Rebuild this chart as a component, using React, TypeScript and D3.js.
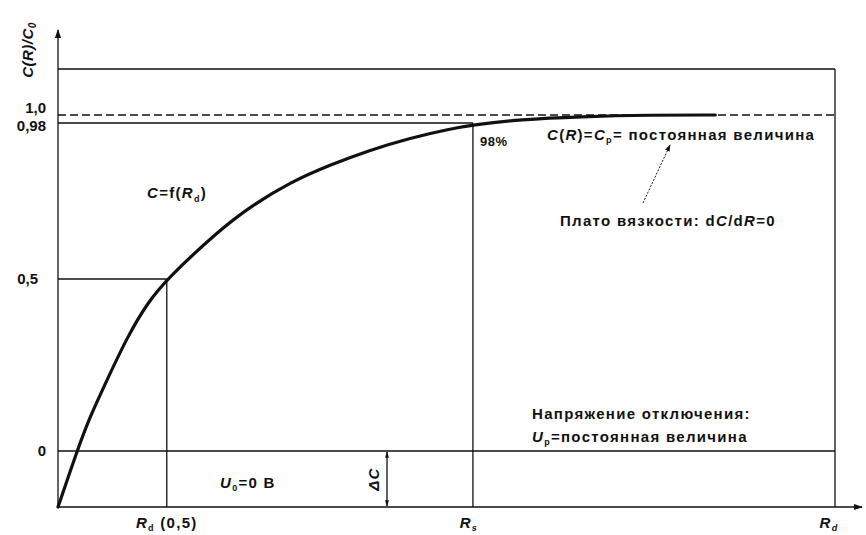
import React, { useEffect } from "react";
import * as d3 from "d3";

// C(R)/C0 curve (R in relative units 0..100 of the axis)
const curveR = [0, 2.45, 4.1, 6.3, 8.9, 11.5, 14.0, 20.8, 24.7, 29.9, 35.0, 40.2, 45.3, 50.5, 53.4, 59.5, 67.2, 76.2, 84.6];
const curveC = [-0.163, 0, 0.099, 0.206, 0.331, 0.43, 0.5, 0.651, 0.722, 0.798, 0.851, 0.897, 0.934, 0.962, 0.974, 0.989, 0.996, 1.0, 1.0];

const yTickValues = [1.0, 0.98, 0.5, 0];
const yTickLabels = ["1,0", "0,98", "0,5", "0"];

const deltaC = -0.163; // bottom of the diagram (R axis)
const yTop = 1.135; // upper frame line
const rHalf = 14.0; // R at C = 0,5
const rPlateau = 53.4; // R at 98 %
const rMax = 100;

const W = 866;
const H = 535;
const FONT = "'Liberation Sans', Arial, sans-serif";

export default function App() {
  useEffect(() => {
    document.body.style.margin = "0";
  }, []);

  const x = d3.scaleLinear().domain([0, rMax]).range([58, 835]);
  // schematic, not to scale: piecewise linear mapping
  const y = d3
    .scaleLinear()
    .domain([deltaC, 0, 0.5, 0.98, 1.0, yTop])
    .range([507, 451, 279, 123, 115, 69]);

  const pts = curveR.map((r, i) => [r, curveC[i]] as [number, number]);
  const line = d3
    .line<[number, number]>()
    .x((d) => x(d[0]))
    .y((d) => y(d[1]))
    .curve(d3.curveBasis);

  const x0 = x(0);
  const x1 = x(rMax);
  const xArrow = x1 + 27;
  const yBase = y(deltaC);
  const yArrow = 28;
  const dcX = 387;

  const txt = { fontFamily: FONT, fontWeight: 700, fill: "#111", fontSize: 15, letterSpacing: 1.3 } as const;

  return (
    <svg width={W} height={H} style={{ display: "block", background: "#fff" }}>
      <defs>
        <marker id="ah" viewBox="0 0 10 10" refX="9" refY="5" markerWidth="7" markerHeight="7" orient="auto-start-reverse">
          <path d="M0,1.5 L10,5 L0,8.5 Z" fill="#111" />
        </marker>
        <marker id="ah2" viewBox="0 0 10 10" refX="9" refY="5" markerWidth="5" markerHeight="5" orient="auto-start-reverse">
          <path d="M0,2 L10,5 L0,8 Z" fill="#111" />
        </marker>
      </defs>

      <g stroke="#111" strokeWidth={1.3} fill="none">
        {/* axes */}
        <line x1={x0} y1={yBase} x2={x0} y2={yArrow + 2} markerEnd="url(#ah)" />
        <line x1={x0} y1={yBase} x2={xArrow} y2={yBase} markerEnd="url(#ah)" />
        {/* frame */}
        <line x1={x0} y1={y(yTop)} x2={x1} y2={y(yTop)} />
        <line x1={x1} y1={y(yTop)} x2={x1} y2={yBase} />
        {/* levels */}
        <line x1={x0} y1={y(1.0)} x2={x1} y2={y(1.0)} strokeDasharray="8,4" />
        <line x1={x0} y1={y(0.98)} x2={x(rPlateau)} y2={y(0.98)} />
        <line x1={x0} y1={y(0.5)} x2={x(rHalf)} y2={y(0.5)} />
        <line x1={x0} y1={y(0)} x2={x1} y2={y(0)} />
        {/* verticals */}
        <line x1={x(rHalf)} y1={y(0.5)} x2={x(rHalf)} y2={yBase} />
        <line x1={x(rPlateau)} y1={y(0.98)} x2={x(rPlateau)} y2={yBase} />
        {/* delta C dimension */}
        <line x1={dcX} y1={y(0) + 1} x2={dcX} y2={yBase - 1} markerStart="url(#ah2)" markerEnd="url(#ah2)" />
        {/* pointer to plateau */}
        <line x1={643} y1={203} x2={670} y2={145} strokeWidth={1} strokeDasharray="2,1.5" markerEnd="url(#ah)" />
      </g>

      {/* curve */}
      <path d={line(pts) ?? ""} fill="none" stroke="#111" strokeWidth={3.2} strokeLinecap="round" />

      {/* y tick labels */}
      {yTickValues.map((v, i) => (
        <text
          key={i}
          {...txt}
          letterSpacing={0}
          x={v === 0.5 ? 38 : 46}
          y={y(v) + (v === 1.0 ? -2 : v === 0.98 ? 8 : 5)}
          textAnchor="end"
        >
          {yTickLabels[i]}
        </text>
      ))}

      {/* y axis title */}
      <text {...txt} letterSpacing={0.5} transform="translate(33,50) rotate(-90)" textAnchor="middle" fontStyle="italic">
        C(R)/C<tspan fontSize={10} dy={3}>0</tspan>
      </text>

      {/* x labels */}
      <text {...txt} x={x(rHalf)} y={528} textAnchor="middle">
        <tspan fontStyle="italic">R</tspan>
        <tspan fontSize={9} dy={3}>d</tspan>
        <tspan dy={-3}> (0,5)</tspan>
      </text>
      <text {...txt} x={x(rPlateau) - 4} y={528} textAnchor="middle" fontStyle="italic">
        R<tspan fontSize={9} dy={3}>s</tspan>
      </text>
      <text {...txt} x={x1 - 6} y={528} textAnchor="middle" fontStyle="italic">
        R<tspan fontSize={9} dy={3}>d</tspan>
      </text>

      {/* annotations */}
      <text {...txt} x={147} y={198}>
        <tspan fontStyle="italic">C</tspan>=f(<tspan fontStyle="italic">R</tspan>
        <tspan fontSize={9} dy={4}>d</tspan>
        <tspan dy={-4}>)</tspan>
      </text>
      <text {...txt} fontSize={13} letterSpacing={0.5} x={480} y={146}>98%</text>
      <text {...txt} x={547} y={140}>
        <tspan fontStyle="italic">C</tspan>(<tspan fontStyle="italic">R</tspan>)=<tspan fontStyle="italic">C</tspan>
        <tspan fontSize={9} dy={3}>p</tspan>
        <tspan dy={-3}>= постоянная величина</tspan>
      </text>
      <text {...txt} x={560} y={226}>
        Плато вязкости: d<tspan fontStyle="italic">C</tspan>/d<tspan fontStyle="italic">R</tspan>=0
      </text>
      <text {...txt} x={532} y={419}>Напряжение отключения:</text>
      <text {...txt} x={532} y={442}>
        <tspan fontStyle="italic">U</tspan>
        <tspan fontSize={9} dy={3}>p</tspan>
        <tspan dy={-3}>=постоянная величина</tspan>
      </text>
      <text {...txt} x={220} y={488}>
        <tspan fontStyle="italic">U</tspan>
        <tspan fontSize={9} dy={3}>0</tspan>
        <tspan dy={-3}>=0 В</tspan>
      </text>
      <text {...txt} fontStyle="italic" transform={`translate(${dcX - 8},${(y(0) + yBase) / 2}) rotate(-90)`} textAnchor="middle">
        ΔC
      </text>
    </svg>
  );
}
